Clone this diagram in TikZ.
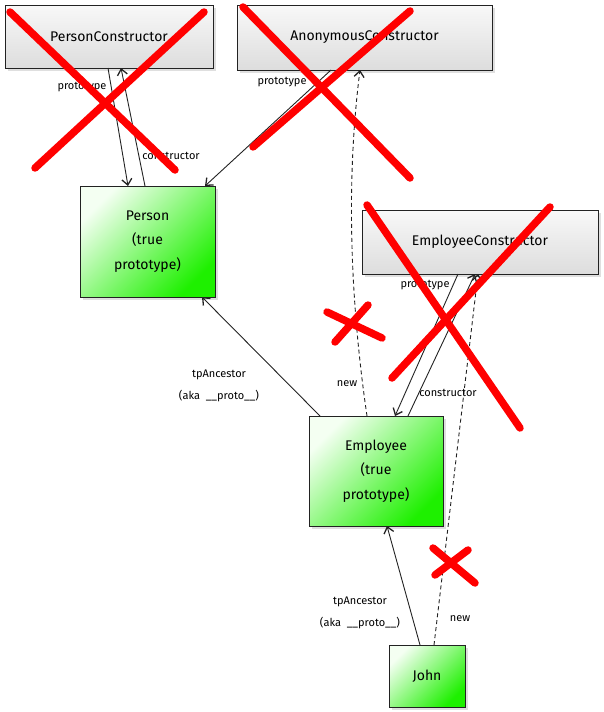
\documentclass[tikz,border=0pt]{standalone}
\usepackage{fontspec}
\setmainfont{Fira Sans}
\usetikzlibrary{arrows.meta,shadows}
\definecolor{linec}{HTML}{222222}
\definecolor{xred}{HTML}{FF0000}
\definecolor{gtop}{HTML}{F4FFF2}
\definecolor{gmid}{HTML}{78F266}
\definecolor{gbot}{HTML}{1EF000}
\definecolor{ctop}{HTML}{F8F8F8}
\definecolor{cbot}{HTML}{DDDDDD}
\tikzset{
  ctorbox/.style={draw=linec, line width=0.9pt, inner sep=0pt, outer sep=0pt,
    top color=ctop, bottom color=cbot, font=\fontsize{14}{16}\selectfont,
    drop shadow={shadow xshift=3pt, shadow yshift=-3pt, opacity=0.25, fill=gray}},
  protobox/.style={draw=linec, line width=0.9pt, inner sep=0pt, outer sep=0pt, align=center,
    left color=gtop, middle color=gmid, right color=gbot, shading angle=45, font=\fontsize{14}{24.5}\selectfont,
    drop shadow={shadow xshift=3pt, shadow yshift=-3pt, opacity=0.25, fill=gray}},
  conn/.style={draw=linec, line width=0.9pt, -{Straight Barb[length=6pt,width=10pt,line width=1.3pt]}},
  dconn/.style={conn, dash pattern=on 4pt off 3pt},
  lbl/.style={font=\fontsize{11}{22}\selectfont, inner sep=0pt, align=center},
  redx/.style={draw=xred, line width=7.5pt, line cap=round}
}
\begin{document}
\begin{tikzpicture}[x=1pt,y=1pt]
\useasboundingbox (0,0) rectangle (603,-712);
% boxes
\node[ctorbox, minimum width=208pt, minimum height=63pt] (pc) at (109,-36.5) {PersonConstructor};
\node[ctorbox, minimum width=255pt, minimum height=65pt] (ac) at (364.5,-37.5) {AnonymousConstructor};
\node[ctorbox, minimum width=236pt, minimum height=64pt] (ec) at (480,-242) {EmployeeConstructor};
\node[protobox, minimum width=135pt, minimum height=111pt] (person) at (147.5,-241.5) {Person\\(true\\prototype)};
\node[protobox, minimum width=134pt, minimum height=110pt] (emp) at (376,-471) {Employee\\(true\\prototype)};
\node[protobox, minimum width=76pt, minimum height=62pt] (john) at (427,-676) {John};
% connectors
\draw[conn] ([xshift=-1pt]pc.south) -- ([xshift=-19.5pt]person.north);
\draw[conn] ([xshift=-2.5pt]person.north) -- ([xshift=12pt]pc.south);
\draw[conn] ([xshift=-33.5pt]ac.south) -- ([xshift=57.5pt]person.north);
\draw[dconn] ([xshift=-9pt]emp.north) .. controls (350,-300) and (346,-180) .. ([xshift=-4.5pt]ac.south);
\draw[conn] ([xshift=-22pt]ec.south) -- ([xshift=19pt]emp.north);
\draw[conn] ([xshift=32pt]emp.north) -- ([xshift=-5pt]ec.south);
\draw[dconn] ([xshift=7pt]john.north) -- ([xshift=-2pt]ec.south);
\draw[conn] ([xshift=-7pt]john.north) -- ([xshift=11pt]emp.south);
\draw[conn] ([xshift=-56pt]emp.north) -- ([xshift=54.5pt]person.south);
% labels
\node[lbl] (l1) at (82,-87) {prototype};
\node[lbl] (l2) at (171,-156) {constructor};
\node[lbl] (l3) at (282,-82) {prototype};
\node[lbl] (l4) at (347,-384) {new};
\node[lbl] (l5) at (425,-285) {prototype};
\node[lbl] (l6) at (448,-393) {constructor};
\node[lbl] (l7) at (219,-386) {tpAncestor\\(aka\ \ \_\_proto\_\_)};
\node[lbl] (l8) at (460,-619) {new};
\node[lbl] (l9) at (360,-613) {tpAncestor\\(aka\ \ \_\_proto\_\_)};
% red crosses
\draw[redx] (10,-12) -- (175,-170);
\draw[redx] (204,-12) -- (35,-168);
\draw[redx] (243,-7) -- (410,-178);
\draw[redx] (410,-11) -- (253,-147);
\draw[redx] (367,-205) -- (520,-428);
\draw[redx] (550,-207) -- (392,-378);
\draw[redx] (327,-312) -- (382,-338);
\draw[redx] (368,-305) -- (335,-342);
\draw[redx] (433,-548) -- (475,-583);
\draw[redx] (468,-550) -- (435,-575);
\end{tikzpicture}
\end{document}
